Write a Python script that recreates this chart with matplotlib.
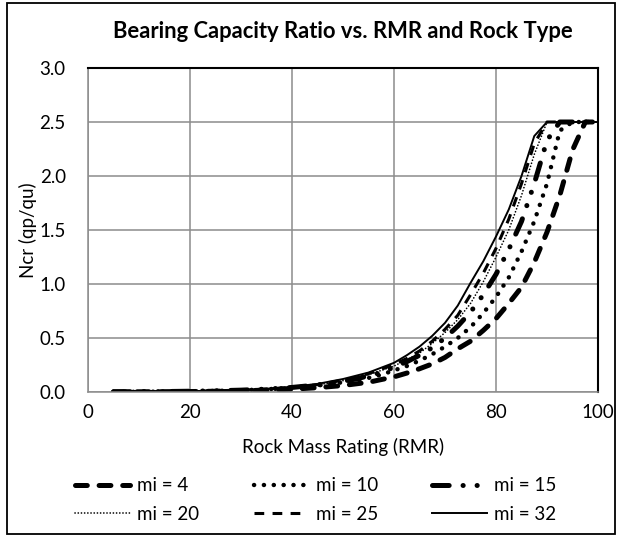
import matplotlib
matplotlib.use("Agg")

import matplotlib.pyplot as plt
from matplotlib.patches import Rectangle
from matplotlib.ticker import FormatStrFormatter

plt.rcParams['font.family'] = ['Lato', 'DejaVu Sans']
plt.rcParams['lines.scale_dashes'] = False

# Rock Mass Rating values shared by all series
rmr = [5, 10, 15, 20, 25, 30, 35, 40, 45, 50, 52.5, 55, 57.5, 60, 62.5, 65, 67.5,
       70, 72.5, 75, 77.5, 80, 82.5, 85, 87.5, 90, 92.5, 95, 97.5, 100]

# Ncr (qp/qu), one list per mi value
ncr_mi4 = [0.001, 0.002, 0.003, 0.004, 0.007, 0.011, 0.017, 0.026, 0.04, 0.06, 0.075,
           0.09, 0.115, 0.14, 0.175, 0.215, 0.26, 0.32, 0.4, 0.47, 0.57, 0.68, 0.82,
           0.97, 1.2, 1.48, 1.82, 2.24, 2.5, 2.5]
ncr_mi10 = [0.001, 0.002, 0.004, 0.006, 0.01, 0.016, 0.025, 0.04, 0.06, 0.09, 0.11,
            0.13, 0.16, 0.2, 0.24, 0.29, 0.35, 0.42, 0.5, 0.6, 0.73, 0.88, 1.06,
            1.3, 1.58, 1.93, 2.42, 2.5, 2.5, 2.5]
ncr_mi15 = [0.002, 0.003, 0.004, 0.007, 0.011, 0.017, 0.027, 0.042, 0.065, 0.1, 0.12,
            0.15, 0.18, 0.23, 0.28, 0.34, 0.41, 0.5, 0.61, 0.74, 0.9, 1.09, 1.32,
            1.58, 1.93, 2.33, 2.5, 2.5, 2.5, 2.5]
ncr_mi20 = [0.001, 0.002, 0.004, 0.006, 0.01, 0.016, 0.026, 0.041, 0.065, 0.105, 0.13,
            0.16, 0.2, 0.24, 0.3, 0.36, 0.45, 0.55, 0.67, 0.82, 1.02, 1.25, 1.5,
            1.82, 2.2, 2.5, 2.5, 2.5, 2.5, 2.5]
ncr_mi25 = [0.002, 0.003, 0.004, 0.007, 0.011, 0.017, 0.027, 0.043, 0.068, 0.11, 0.135,
            0.17, 0.21, 0.255, 0.31, 0.38, 0.47, 0.58, 0.71, 0.9, 1.1, 1.33, 1.6,
            1.93, 2.3, 2.5, 2.5, 2.5, 2.5, 2.5]
ncr_mi32 = [0.002, 0.003, 0.005, 0.008, 0.012, 0.019, 0.03, 0.048, 0.075, 0.12, 0.15,
            0.18, 0.225, 0.27, 0.34, 0.42, 0.52, 0.64, 0.8, 1.01, 1.21, 1.44, 1.69,
            2.0, 2.37, 2.5, 2.5, 2.5, 2.5, 2.5]

labels = ['mi = 4', 'mi = 10', 'mi = 15', 'mi = 20', 'mi = 25', 'mi = 32']
series = [ncr_mi4, ncr_mi10, ncr_mi15, ncr_mi20, ncr_mi25, ncr_mi32]

styles = [
    dict(lw=3.6, ls=(0, (8.5, 8.5)), dash_capstyle='round'),
    dict(lw=3.2, ls=(0, (0.1, 7)), dash_capstyle='round'),
    dict(lw=3.6, ls=(0, (12, 10, 0.1, 10, 0.1, 10)), dash_capstyle='round'),
    dict(lw=1.2, ls=(0, (0.1, 2.2)), dash_capstyle='round'),
    dict(lw=2.2, ls=(0, (7, 6))),
    dict(lw=1.4, ls='-'),
]

fig = plt.figure(figsize=(6.21, 5.38), dpi=100)
ax = fig.add_axes([0.1417, 0.2714, 0.8213, 0.6022])

lines = []
for vals, lab, st in zip(series, labels, styles):
    ln, = ax.plot(rmr, vals, color='black', label=lab, **st)
    lines.append(ln)

ax.set_xlim(0, 100)
ax.set_ylim(0, 3.0)
ax.set_xticks(range(0, 101, 20))
ax.set_yticks([0, 0.5, 1.0, 1.5, 2.0, 2.5, 3.0])
ax.yaxis.set_major_formatter(FormatStrFormatter('%.1f'))
ax.tick_params(length=0, labelsize=13.5)
ax.tick_params(axis='y', pad=16)
ax.tick_params(axis='x', pad=9)
ax.grid(True, color='#8c8c8c', lw=1.1)
ax.set_axisbelow(True)

for side in ['left', 'bottom']:
    ax.spines[side].set_color('#8c8c8c')
    ax.spines[side].set_linewidth(1.1)
for side in ['top', 'right']:
    ax.spines[side].set_color('black')
    ax.spines[side].set_linewidth(1.5)

ax.set_xlabel('Rock Mass Rating (RMR)', fontsize=13.5, labelpad=12)
ax.set_ylabel('Ncr (qp/qu)', fontsize=13.5, labelpad=2)

fig.text(0.552, 1 - 32 / 538, 'Bearing Capacity Ratio vs. RMR and Rock Type',
         ha='center', va='center', fontsize=15.8, fontweight='bold')

# column-wise fill so rows read mi=4,10,15 / mi=20,25,32
order = [0, 3, 1, 4, 2, 5]
fig.legend([lines[i] for i in order], [labels[i] for i in order],
           ncol=3, loc='center', bbox_to_anchor=(316 / 621, 1 - 500 / 538),
           frameon=False, fontsize=13.5, handlelength=2.9, handletextpad=0.4,
           columnspacing=2.9, labelspacing=0.6)

fig.patches.append(Rectangle((0.011, 0.007), 0.979, 0.987, transform=fig.transFigure,
                             fill=False, edgecolor='black', lw=1.3))

plt.savefig('out.png', dpi=100)
plt.close(fig)
